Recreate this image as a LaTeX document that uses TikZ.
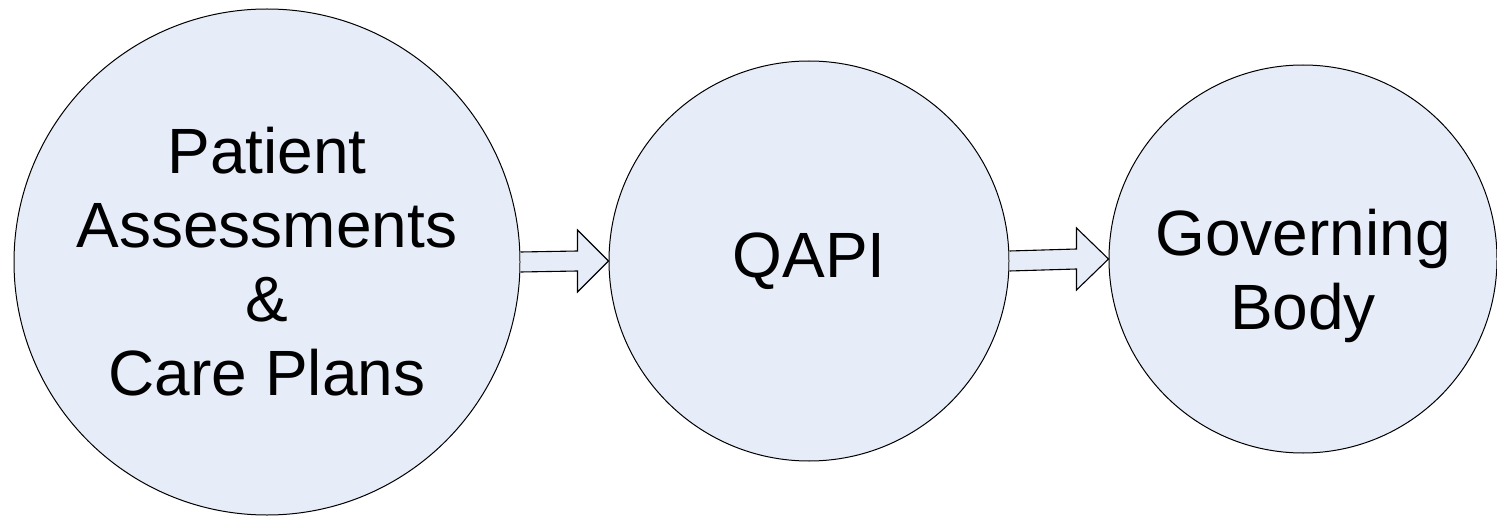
\documentclass[tikz,border=0pt]{standalone}
\usepackage{fontspec}
\setmainfont{Liberation Sans}
\usetikzlibrary{calc}
\definecolor{bubble}{RGB}{231,237,248}
\tikzset{
  bubblenode/.style={circle, draw=black, fill=bubble, line width=1pt, inner sep=0pt, align=center,
    font=\fontsize{64}{74}\selectfont},
  labeltext/.style={inner sep=0pt, align=center, font=\fontsize{64}{74}\selectfont},
  arrowshape/.style={draw=black, fill=bubble, line width=1.1pt, line join=miter}
}
\begin{document}
\begin{tikzpicture}[x=1pt,y=-1pt]
\useasboundingbox (0,0) rectangle (1497,516);
\node[bubblenode, minimum size=506pt] (c1) at (267,262) {Patient\\Assessments\\\&\\Care Plans};
\node[bubblenode, minimum size=400pt] (c2) at (809,261) {QAPI};
\node[bubblenode, minimum size=388pt] (c3) at (1303,259) {};
\node[labeltext] (t3) at ($(c3.center)+(0,17)$) {Governing\\Body};
% arrow 1
\draw[arrowshape] ($(c1.east)+(0,-10)$) -- ($(c2.west)+(-31,-10)$) -- ++(0,-21) -- (c2.west) -- ++(-31,31) -- ++(0,-21) -- ($(c1.east)+(0,10)$);
% arrow 2
\draw[arrowshape] ($(c2.east)+(0,-10)$) -- ($(c3.west)+(-32,-10)$) -- ++(0,-21) -- (c3.west) -- ++(-32,31) -- ++(0,-21) -- ($(c2.east)+(0,10)$);
\end{tikzpicture}
\end{document}
